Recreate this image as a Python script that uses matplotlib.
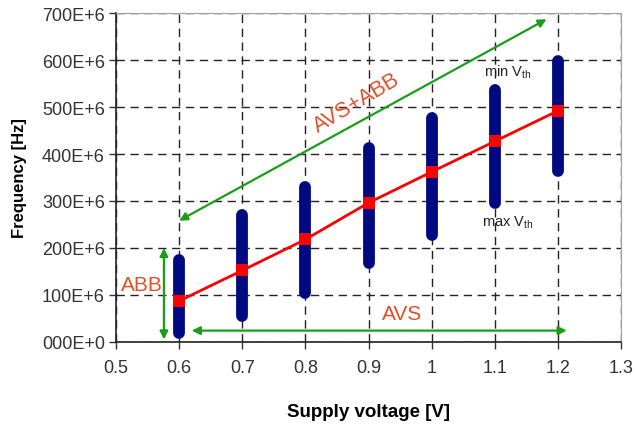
import matplotlib
matplotlib.use("Agg")
import matplotlib.pyplot as plt

plt.rcParams['font.family'] = ['Liberation Sans', 'DejaVu Sans']

voltage = [0.6, 0.7, 0.8, 0.9, 1.0, 1.1, 1.2]
freq_mean = [87e6, 152e6, 218e6, 296e6, 362e6, 427e6, 492e6]
freq_min = [19e6, 55e6, 104e6, 168e6, 228e6, 296e6, 364e6]
freq_max = [175e6, 270e6, 330e6, 413e6, 477e6, 536e6, 598e6]

xticks = [0.5, 0.6, 0.7, 0.8, 0.9, 1.0, 1.1, 1.2, 1.3]
xtick_labels = ['0.5', '0.6', '0.7', '0.8', '0.9', '1', '1.1', '1.2', '1.3']
yticks = [0, 100e6, 200e6, 300e6, 400e6, 500e6, 600e6, 700e6]
ytick_labels = ['000E+0', '100E+6', '200E+6', '300E+6', '400E+6', '500E+6', '600E+6', '700E+6']

green = '#1a9e1a'
orange = '#e0502a'

fig = plt.figure(figsize=(6.37, 4.27), dpi=100)
ax = fig.add_axes([0.182, 0.197, 0.793, 0.770])

ax.set_xlim(0.5, 1.3)
ax.set_ylim(0, 700e6)
ax.set_xticks(xticks)
ax.set_xticklabels(xtick_labels)
ax.set_yticks(yticks)
ax.set_yticklabels(ytick_labels)
ax.tick_params(axis='both', labelsize=13, colors='#333333', length=5, width=1)
ax.tick_params(axis='x', pad=7)
ax.tick_params(axis='y', pad=3)
ax.grid(True, color='#222222', linestyle=(0, (6, 4)), linewidth=1)
ax.set_axisbelow(True)
for s in ['top', 'right']:
    ax.spines[s].set_color('#a0a0a0')
for s in ['left', 'bottom']:
    ax.spines[s].set_color('#222222')
    ax.spines[s].set_linewidth(1.2)

ax.vlines(voltage, freq_min, freq_max, colors='#000a80', linewidth=8.5,
          capstyle='round', zorder=3)
ax.plot(voltage, freq_mean, color='#ff0000', linewidth=2, marker='s',
        markersize=8, markeredgewidth=0, zorder=4)

arrow_kw = dict(arrowstyle='<|-|>', color=green, lw=1.6, mutation_scale=12,
                shrinkA=0, shrinkB=0)
ax.annotate('', xy=(1.182, 687e6), xytext=(0.6, 258e6), arrowprops=arrow_kw, zorder=5)
ax.annotate('', xy=(0.576, 200e6), xytext=(0.576, 5e6), arrowprops=arrow_kw, zorder=5)
ax.annotate('', xy=(1.214, 24e6), xytext=(0.62, 24e6), arrowprops=arrow_kw, zorder=5)

ax.text(0.882, 511e6, 'AVS+ABB', color=orange, fontsize=15.5, rotation=31,
        ha='center', va='center', zorder=6)
ax.text(0.541, 123e6, 'ABB', color=orange, fontsize=15, ha='center', va='center', zorder=6)
ax.text(0.953, 60e6, 'AVS', color=orange, fontsize=15, ha='center', va='center', zorder=6)
ax.text(1.121, 577e6, r'min V$_{\mathregular{th}}$', color='#222222', fontsize=10.5,
        ha='center', va='center', zorder=6)
ax.text(1.121, 255e6, r'max V$_{\mathregular{th}}$', color='#222222', fontsize=10.5,
        ha='center', va='center', zorder=6)

ax.set_xlabel('Supply voltage [V]', fontsize=13.5, fontweight='bold', labelpad=20)
ax.set_ylabel('Frequency [Hz]', fontsize=12, fontweight='bold', labelpad=11)

fig.savefig('out.png', dpi=100)
